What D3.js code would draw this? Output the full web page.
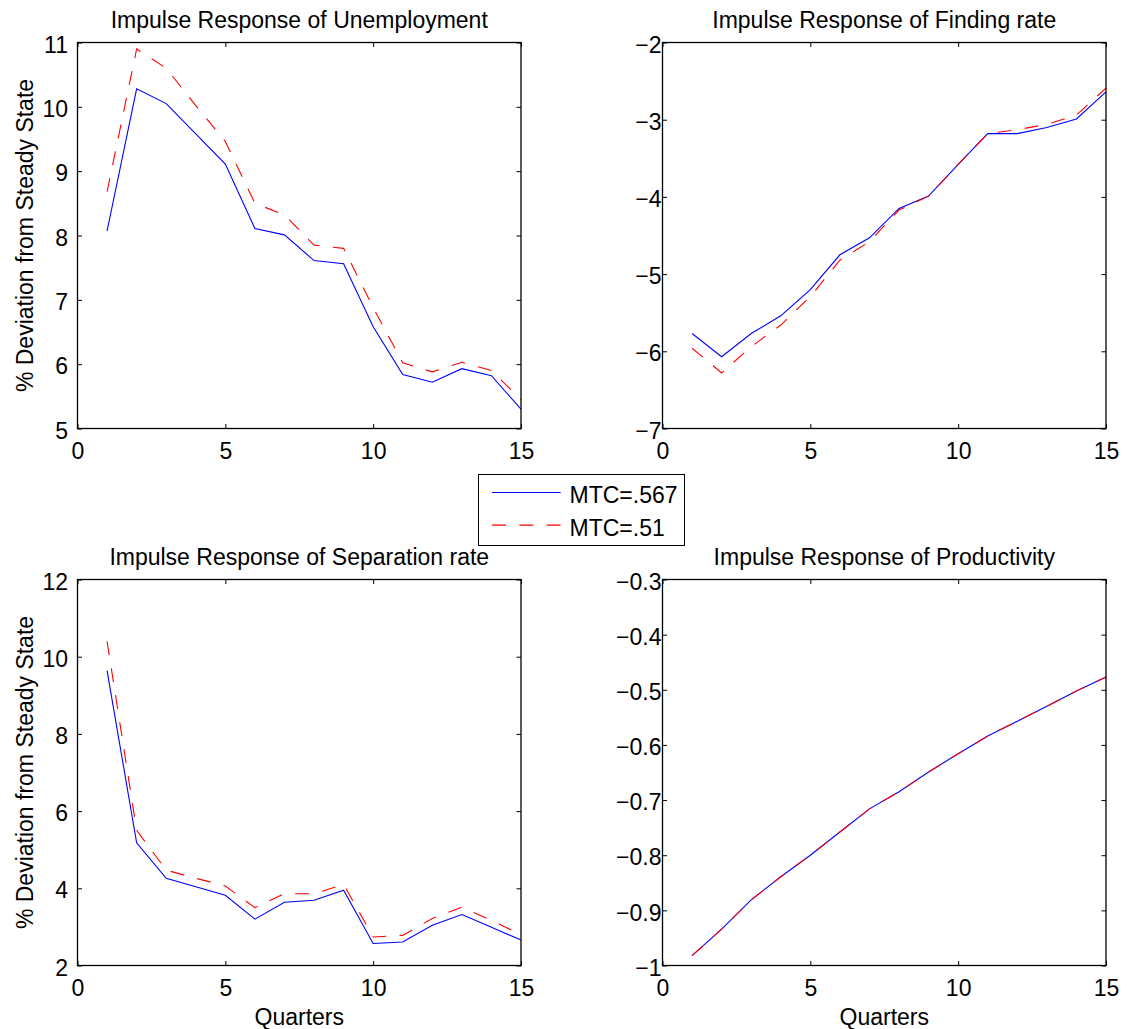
<!DOCTYPE html>
<html>
<head>
<meta charset="utf-8">
<script src="https://cdn.jsdelivr.net/npm/d3@7"></script>
<style>
  body { margin: 0; background: #fff; }
  svg text { font-family: "Liberation Sans", Arial, Helvetica, sans-serif; fill: #000; }
</style>
</head>
<body>
<div class="chart"></div>
<script>
// quarters after the shock
const quarters = [1, 2, 3, 4, 5, 6, 7, 8, 9, 10, 11, 12, 13, 14, 15];
const seriesNames = ["MTC=.567", "MTC=.51"];

const unempBlue = [8.07, 10.28, 10.05, 9.58, 9.11, 8.11, 8.01, 7.61, 7.56, 6.58, 5.84, 5.72, 5.93, 5.82, 5.30];
const unempRed  = [8.68, 10.90, 10.60, 10.02, 9.46, 8.50, 8.32, 7.85, 7.80, 6.88, 6.02, 5.88, 6.03, 5.90, 5.45];
const findBlue  = [-5.77, -6.07, -5.77, -5.54, -5.20, -4.75, -4.53, -4.15, -3.99, -3.58, -3.18, -3.18, -3.10, -2.99, -2.64];
const findRed   = [-5.96, -6.28, -5.94, -5.66, -5.29, -4.82, -4.58, -4.17, -3.99, -3.58, -3.18, -3.13, -3.06, -2.94, -2.59];
const sepBlue   = [9.64, 5.18, 4.26, 4.04, 3.82, 3.20, 3.64, 3.69, 3.95, 2.57, 2.61, 3.04, 3.32, 2.99, 2.66];
const sepRed    = [10.40, 5.50, 4.47, 4.26, 4.06, 3.50, 3.86, 3.86, 4.10, 2.74, 2.78, 3.22, 3.51, 3.17, 2.80];
const prodBlue  = [-0.982, -0.934, -0.881, -0.839, -0.800, -0.758, -0.716, -0.685, -0.649, -0.616, -0.584, -0.557, -0.530, -0.502, -0.477];
const prodRed   = [-0.982, -0.934, -0.881, -0.839, -0.800, -0.758, -0.716, -0.685, -0.649, -0.616, -0.584, -0.557, -0.530, -0.502, -0.477];

const xTicks = [0, 5, 10, 15];
const unempTicks = [5, 6, 7, 8, 9, 10, 11];
const findTicks = [-7, -6, -5, -4, -3, -2];
const sepTicks = [2, 4, 6, 8, 10, 12];
const prodTicks = [-1, -0.9, -0.8, -0.7, -0.6, -0.5, -0.4, -0.3];

const W = 1127, H = 1029;
const pw = 443.5, ph = 386;
const fontSize = 23;
const tickLen = 4.5;
const dash = "14,13.3";

const svg = d3.select(".chart")
    .append("svg")
    .attr("width", W)
    .attr("height", H);

function fmt(d) {
    return String(Math.round(d * 10) / 10).replace("-", "\u2212");
}

function drawPanel(p) {
    const g = svg.append("g").attr("transform", `translate(${p.left},${p.top})`);

    const x = d3.scaleLinear().domain([0, 15]).range([0, pw]);
    const y = d3.scaleLinear().domain(d3.extent(p.yTicks)).range([ph, 0]);

    const ax = [
        d3.axisBottom(x).tickValues(xTicks).tickSize(-tickLen).tickPadding(14).tickFormat(fmt),
        d3.axisTop(x).tickValues(xTicks).tickSize(-tickLen).tickFormat(""),
        d3.axisLeft(y).tickValues(p.yTicks).tickSize(-tickLen).tickPadding(p.pad).tickFormat(fmt),
        d3.axisRight(y).tickValues(p.yTicks).tickSize(-tickLen).tickFormat("")
    ];
    const pos = [[0, ph], [0, 0], [0, 0], [pw, 0]];
    ax.forEach(function (a, i) {
        const ag = g.append("g")
            .attr("transform", `translate(${pos[i][0]},${pos[i][1]})`)
            .call(a);
        ag.select(".domain").remove();
        ag.selectAll(".tick line").attr("stroke", "#000").attr("stroke-width", 1);
        ag.selectAll("text")
            .style("font-size", fontSize + "px")
            .style("font-family", '"Liberation Sans", Arial, sans-serif')
            .attr("fill", "#000");
        if (i === 2) ag.selectAll("text").attr("dy", "0.42em");
    });

    // series
    const line = d3.line()
        .x(function (d, i) { return x(quarters[i]); })
        .y(function (d) { return y(d); });

    g.append("path")
        .datum(p.blue)
        .attr("fill", "none")
        .attr("stroke", "#0000ff")
        .attr("stroke-width", 1.1)
        .attr("d", line);

    g.append("path")
        .datum(p.red)
        .attr("fill", "none")
        .attr("stroke", "#ff0000")
        .attr("stroke-width", 1.1)
        .attr("stroke-dasharray", dash)
        .attr("d", line);

    // box
    g.append("rect")
        .attr("width", pw)
        .attr("height", ph)
        .attr("fill", "none")
        .attr("stroke", "#000")
        .attr("stroke-width", 1.3);

    g.append("text")
        .attr("x", pw / 2)
        .attr("y", -15)
        .attr("text-anchor", "middle")
        .style("font-size", fontSize + "px")
        .text(p.title);

    if (p.ylabel) {
        g.append("text")
            .attr("transform", "rotate(-90)")
            .attr("x", -ph / 2)
            .attr("y", 33 - p.left)
            .attr("text-anchor", "middle")
            .style("font-size", fontSize + "px")
            .text(p.ylabel);
    }
    if (p.xlabel) {
        g.append("text")
            .attr("x", pw / 2)
            .attr("y", ph + 59)
            .attr("text-anchor", "middle")
            .style("font-size", fontSize + "px")
            .text(p.xlabel);
    }
}

const ylab = "% Deviation from Steady State";

drawPanel({ left: 77.5, top: 42.5, yTicks: unempTicks, pad: 9.5, blue: unempBlue, red: unempRed,
    title: "Impulse Response of Unemployment", ylabel: ylab });
drawPanel({ left: 662.5, top: 42.5, yTicks: findTicks, pad: 1, blue: findBlue, red: findRed,
    title: "Impulse Response of Finding rate" });
drawPanel({ left: 77.5, top: 579.5, yTicks: sepTicks, pad: 9.5, blue: sepBlue, red: sepRed,
    title: "Impulse Response of Separation rate", ylabel: ylab, xlabel: "Quarters" });
drawPanel({ left: 662.5, top: 579.5, yTicks: prodTicks, pad: 1, blue: prodBlue, red: prodRed,
    title: "Impulse Response of Productivity", xlabel: "Quarters" });

// legend
const lg = svg.append("g").attr("transform", "translate(478.5,474.5)");
lg.append("rect")
    .attr("width", 206)
    .attr("height", 71)
    .attr("fill", "#fff")
    .attr("stroke", "#000")
    .attr("stroke-width", 1);

const legendColors = ["#0000ff", "#ff0000"];
const legendDash = [null, dash];
seriesNames.forEach(function (name, i) {
    const yy = 18 + i * 32.6;
    lg.append("line")
        .attr("x1", 13.5).attr("x2", 82.2)
        .attr("y1", yy).attr("y2", yy)
        .attr("stroke", legendColors[i])
        .attr("stroke-width", 1.1)
        .attr("stroke-dasharray", legendDash[i]);
    lg.append("text")
        .attr("x", 91)
        .attr("y", yy + 10.5)
        .style("font-size", fontSize + "px")
        .text(name);
});
</script>
</body>
</html>
